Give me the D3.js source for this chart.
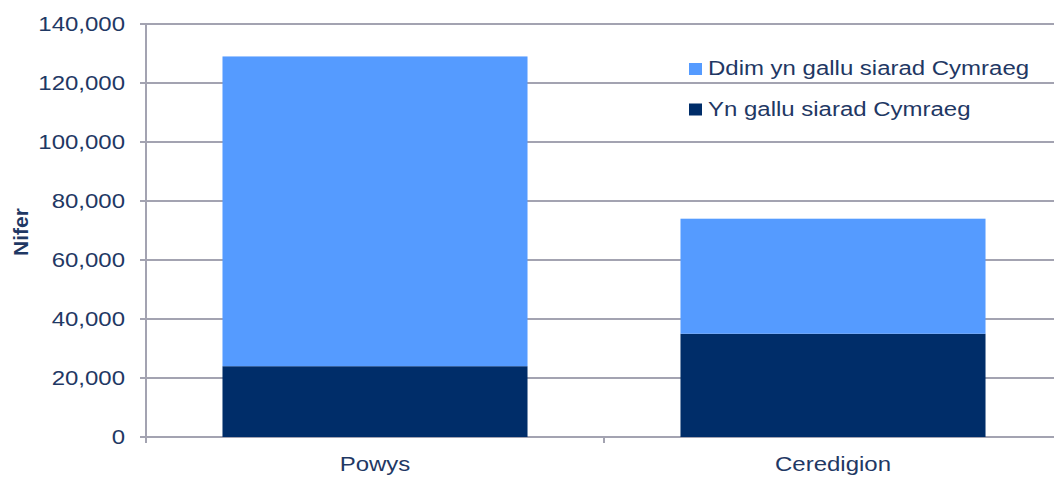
<!DOCTYPE html>
<html>
<head>
<meta charset="utf-8">
<script src="https://cdn.jsdelivr.net/npm/d3@7"></script>
<style>
    body { margin: 0; background: #fff; }
    text { font-family: "Liberation Sans", Arial, sans-serif; fill: #1f3864; }
</style>
</head>
<body>
<svg id="chart"></svg>
<script>
var categories = ['Powys', 'Ceredigion'];
var seriesNames = ['Yn gallu siarad Cymraeg', 'Ddim yn gallu siarad Cymraeg'];
var speakers = [24000, 35000];
var nonSpeakers = [105000, 39000];
var yTicks = [0, 20000, 40000, 60000, 80000, 100000, 120000, 140000];
var colors = ['#002d69', '#559bff'];

var width = 1054, height = 477;
var plotLeft = 146, plotRight = 1062, plotTop = 24, plotBottom = 437;
var fontSize = 19.5;
var stretch = 1.23;
var gridColor = '#a3a3b1';

var svg = d3.select('#chart').attr('width', width).attr('height', height);

var x = d3.scaleBand()
    .domain(categories)
    .range([plotLeft, plotRight])
    .paddingInner(0.334)
    .paddingOuter(0.167);

var y = d3.scaleLinear()
    .domain([0, 140000])
    .range([plotBottom, plotTop]);

// stretched text helper, the source text is wider than plain Arial
function addText(g, tx, ty, str, anchor) {
    return g.append('g')
        .attr('transform', 'translate(' + tx + ',' + ty + ') scale(' + stretch + ',1)')
        .append('text')
        .attr('text-anchor', anchor)
        .attr('font-size', fontSize)
        .text(str);
}

// gridlines
svg.append('g')
    .selectAll('line')
    .data(yTicks)
    .join('line')
    .attr('x1', plotLeft - 6)
    .attr('x2', width)
    .attr('y1', d => y(d))
    .attr('y2', d => y(d))
    .attr('stroke', gridColor)
    .attr('stroke-width', 2);

// stacked bars
var rows = categories.map(function(c, i) {
    return { cat: c, speak: speakers[i], non: nonSpeakers[i] };
});
var stack = d3.stack().keys(['speak', 'non'])(rows);

svg.append('g')
    .selectAll('g')
    .data(stack)
    .join('g')
    .attr('fill', (d, i) => colors[i])
    .selectAll('rect')
    .data(d => d)
    .join('rect')
    .attr('x', d => x(d.data.cat))
    .attr('width', x.bandwidth())
    .attr('y', d => y(d[1]))
    .attr('height', d => y(d[0]) - y(d[1]));

// y axis line and category separators
svg.append('line')
    .attr('x1', plotLeft).attr('x2', plotLeft)
    .attr('y1', plotTop).attr('y2', plotBottom + 6)
    .attr('stroke', gridColor).attr('stroke-width', 2);

svg.append('g')
    .selectAll('line')
    .data(categories.slice(1))
    .join('line')
    .attr('x1', d => x(d) - x.step() * x.paddingInner() / 2)
    .attr('x2', d => x(d) - x.step() * x.paddingInner() / 2)
    .attr('y1', plotBottom)
    .attr('y2', plotBottom + 6)
    .attr('stroke', gridColor)
    .attr('stroke-width', 2);

// tick labels
var fmt = d3.format(',');
var yLabels = svg.append('g');
yTicks.forEach(function(t) {
    addText(yLabels, 125, y(t), fmt(t), 'end').attr('dy', '0.36em');
});

var xLabels = svg.append('g');
categories.forEach(function(c) {
    addText(xLabels, x(c) + x.bandwidth() / 2, 471, c, 'middle');
});

// axis title
svg.append('text')
    .attr('transform', 'translate(28,232) rotate(-90)')
    .attr('text-anchor', 'middle')
    .attr('font-size', 21)
    .attr('font-weight', 'bold')
    .text('Nifer');

// legend, top series first
var legend = svg.append('g');
[1, 0].forEach(function(s, i) {
    var ly = 75 + i * 40.5;
    legend.append('rect')
        .attr('x', 689)
        .attr('y', ly - 12)
        .attr('width', 13)
        .attr('height', 12)
        .attr('fill', colors[s]);
    addText(legend, 708, ly, seriesNames[s], 'start');
});
</script>
</body>
</html>
